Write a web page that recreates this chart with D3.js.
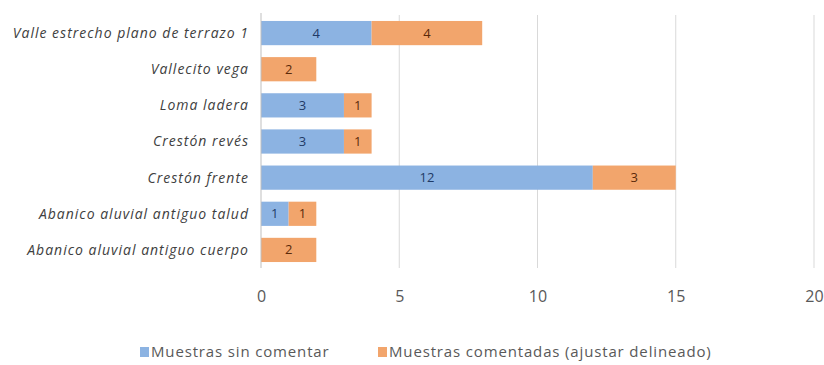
<!DOCTYPE html>
<html><head><meta charset="utf-8">
<script src="https://cdn.jsdelivr.net/npm/d3@7"></script>
<style>body{margin:0;background:#fff;}svg{display:block;}</style>
</head><body>
<svg id="c" width="824" height="365"></svg>
<script>
const categories = ["Valle estrecho plano de terrazo 1","Vallecito vega","Loma ladera","Crestón revés","Crestón frente","Abanico aluvial antiguo talud","Abanico aluvial antiguo cuerpo"];
const sinComentar = [4, 0, 3, 3, 12, 1, 0];
const comentadas = [4, 2, 1, 1, 3, 1, 2];
const seriesNames = ["Muestras sin comentar","Muestras comentadas (ajustar delineado)"];
const xTicks = [0, 5, 10, 15, 20];

const colors = ["#8cb3e2", "#f2a56c"];
const labelColors = ["#1f3a66", "#5b2a0a"];

const svg = d3.select("#c");
const plotL = 261, plotR = 814, plotT = 15, plotB = 268;
const x = d3.scaleLinear().domain([0, 20]).range([plotL, plotR]);
const y = d3.scaleBand().domain(categories).range([plotT, plotB]).paddingInner(0.33).paddingOuter(0.165);

// gridlines
svg.append("g").selectAll("line").data(xTicks.filter(d => d > 0)).join("line")
  .attr("x1", d => x(d)).attr("x2", d => x(d)).attr("y1", plotT).attr("y2", plotB)
  .attr("stroke", "#d9d9d9").attr("stroke-width", 1);

const rows = categories.map((c, i) => ({c, vals: [sinComentar[i], comentadas[i]]}));
const segs = [];
rows.forEach(r => { let acc = 0; r.vals.forEach((v, s) => { if (v > 0) segs.push({c: r.c, s, x0: acc, x1: acc + v, v}); acc += v; }); });

svg.append("g").selectAll("rect").data(segs).join("rect")
  .attr("x", d => x(d.x0)).attr("width", d => x(d.x1) - x(d.x0))
  .attr("y", d => y(d.c)).attr("height", y.bandwidth())
  .attr("fill", d => colors[d.s]);

svg.append("g").selectAll("text").data(segs).join("text")
  .attr("x", d => (x(d.x0) + x(d.x1)) / 2).attr("y", d => y(d.c) + y.bandwidth() / 2)
  .attr("dy", "0.35em").attr("text-anchor", "middle")
  .attr("font-family", "Open Sans, sans-serif").attr("font-size", 13)
  .attr("fill", d => labelColors[d.s]).text(d => d.v);

// axis line
svg.append("line").attr("x1", plotL).attr("x2", plotL).attr("y1", plotT - 2).attr("y2", plotB)
  .attr("stroke", "#bfbfbf").attr("stroke-width", 1);

// category labels
svg.append("g").selectAll("text").data(categories).join("text")
  .attr("x", plotL - 12).attr("y", d => y(d) + y.bandwidth() / 2).attr("dy", "0.35em")
  .attr("text-anchor", "end").attr("font-family", "Open Sans, sans-serif")
  .attr("font-style", "italic").attr("font-size", 14).attr("letter-spacing", 1)
  .attr("fill", "#404040").text(d => d);

// x tick labels
const xAxis = d3.axisBottom(x).tickValues(xTicks).tickSize(0).tickPadding(0);
const gx = svg.append("g").attr("transform", `translate(0,${plotB + 23})`).call(xAxis);
gx.select(".domain").remove();
gx.selectAll("text").attr("font-family", "Open Sans, sans-serif").attr("font-size", 16).attr("fill", "#595959");

// legend
const legend = [{n: seriesNames[0], c: colors[0], x: 140}, {n: seriesNames[1], c: colors[1], x: 378}];
const lg = svg.append("g");
legend.forEach(l => {
  lg.append("rect").attr("x", l.x).attr("y", 347).attr("width", 9).attr("height", 10).attr("fill", l.c);
  lg.append("text").attr("x", l.x + 11).attr("y", 352).attr("dy", "0.35em")
    .attr("font-family", "Open Sans, sans-serif").attr("font-size", 15).attr("letter-spacing", 0.85)
    .attr("fill", "#595959").text(l.n);
});
</script>
</body></html>
